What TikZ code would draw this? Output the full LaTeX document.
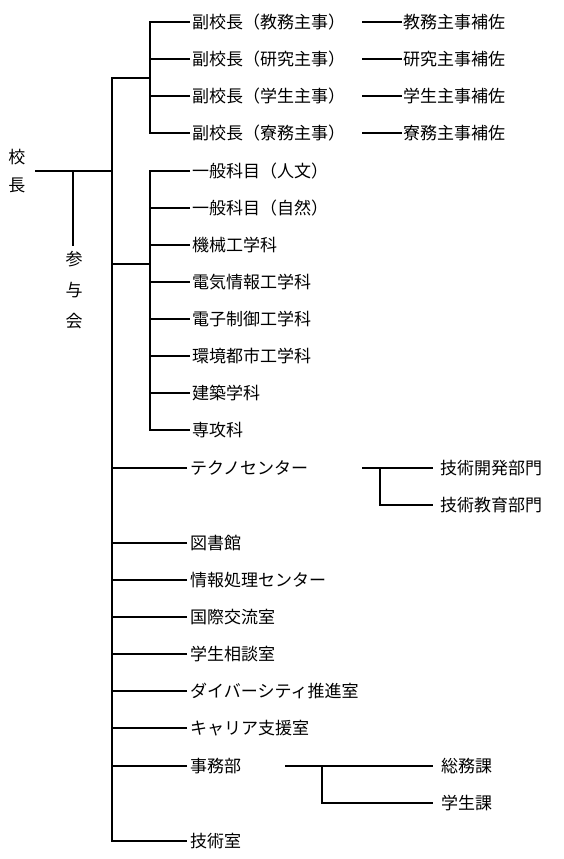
\documentclass[tikz,border=0pt]{standalone}
\usepackage{fontspec}
\setmainfont{Noto Sans CJK JP}
\begin{document}
\begin{tikzpicture}[x=1pt,y=-1pt,
  every node/.style={inner sep=0pt, font=\fontsize{17}{20}\selectfont},
  ln/.style={line width=1.8pt},
  lbl/.style={anchor=west}]
\useasboundingbox (0,0) rectangle (564,859);

% head
\node[align=center] (kocho) at (17,171) {校\\[8pt]長};
\node[align=center] (sanyo) at (74,290) {参\\[11pt]与\\[11pt]会};
\coordinate (kL) at (35,171);
\coordinate (kJ) at (112,171);
\coordinate (sJ) at (73,171);
\coordinate (sE) at (73,246);
\draw[ln] (kL) -- (kJ);
\draw[ln] (sJ) -- (sE);

% vice principals
\node[lbl] (vp1) at (192,22)  {副校長（教務主事）};
\node[lbl] (vp2) at (192,59)  {副校長（研究主事）};
\node[lbl] (vp3) at (192,96)  {副校長（学生主事）};
\node[lbl] (vp4) at (192,133) {副校長（寮務主事）};
\node[lbl] (as1) at (403,22)  {教務主事補佐};
\node[lbl] (as2) at (403,59)  {研究主事補佐};
\node[lbl] (as3) at (403,96)  {学生主事補佐};
\node[lbl] (as4) at (403,133) {寮務主事補佐};
\foreach \i in {1,2,3,4}{
  \draw[ln] ([xshift=-41]as\i.west) -- ([xshift=-1]as\i.west);
}
\coordinate (vpJ) at (150,78);
\draw[ln] ([xshift=-2]vp1.west) -| (vpJ) |- ([xshift=-2]vp4.west);
\draw[ln] ([xshift=-2]vp2.west) -- (150,59);
\draw[ln] ([xshift=-2]vp3.west) -- (150,96);

% departments
\node[lbl] (d1) at (192,171) {一般科目（人文）};
\node[lbl] (d2) at (192,208) {一般科目（自然）};
\node[lbl] (d3) at (192,245) {機械工学科};
\node[lbl] (d4) at (192,282) {電気情報工学科};
\node[lbl] (d5) at (192,319) {電子制御工学科};
\node[lbl] (d6) at (192,356) {環境都市工学科};
\node[lbl] (d7) at (192,393) {建築学科};
\node[lbl] (d8) at (192,430) {専攻科};
\coordinate (dJ) at (150,264);
\draw[ln] ([xshift=-2]d1.west) -| (dJ) |- ([xshift=-2]d8.west);
\foreach \i in {2,...,7}{
  \draw[ln] ([xshift=-2]d\i.west) -- ++(-40,0);
}

% lower units
\node[lbl] (u1) at (190,468) {テクノセンター};
\node[lbl] (u2) at (190,543) {図書館};
\node[lbl] (u3) at (190,580) {情報処理センター};
\node[lbl] (u4) at (190,617) {国際交流室};
\node[lbl] (u5) at (190,654) {学生相談室};
\node[lbl] (u6) at (190,691) {ダイバーシティ推進室};
\node[lbl] (u7) at (190,728) {キャリア支援室};
\node[lbl] (u8) at (190,766) {事務部};
\node[lbl] (u9) at (190,841) {技術室};

% spine
\coordinate (sTop) at (112,78);
\draw[ln] (vpJ) -- (sTop) |- ([xshift=-3]u9.west);
\draw[ln] (kJ) -- (112,171);
\draw[ln] (112,264) -- (dJ);
\foreach \i in {1,...,8}{
  \draw[ln] ([xshift=-3]u\i.west) -- ++(-75,0);
}

% techno center subunits
\node[lbl] (t1) at (440,468) {技術開発部門};
\node[lbl] (t2) at (440,505) {技術教育部門};
\coordinate (tS) at (362,468);
\coordinate (tJ) at (380,468);
\draw[ln] (tS) -- ([xshift=-7]t1.west);
\draw[ln] (tJ) |- ([xshift=-7]t2.west);

% office subunits
\node[lbl] (o1) at (441,766) {総務課};
\node[lbl] (o2) at (441,803) {学生課};
\coordinate (oS) at (285,766);
\coordinate (oJ) at (322,766);
\draw[ln] (oS) -- ([xshift=-8]o1.west);
\draw[ln] (oJ) |- ([xshift=-8]o2.west);
\end{tikzpicture}
\end{document}
